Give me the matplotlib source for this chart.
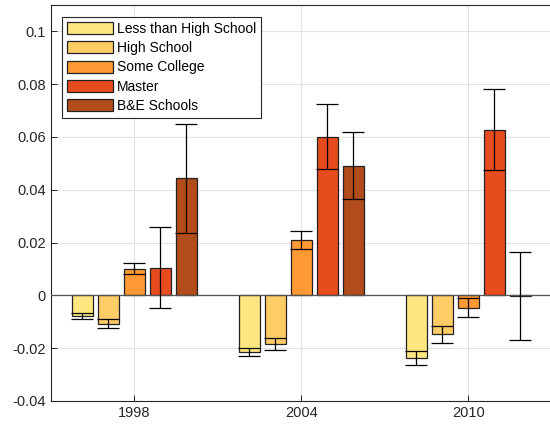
import matplotlib.pyplot as plt
import numpy as np

plt.rcParams['font.family'] = ['Liberation Sans', 'DejaVu Sans']

years = ['1998', '2004', '2010']
groups = ['Less than High School', 'High School', 'Some College', 'Master', 'B&E Schools']
colors = ['#ffe680', '#ffcc66', '#ff9933', '#e64c1e', '#b24c1a']

# estimates per education group, one value per year
est = [
    [-0.0078, -0.0215, -0.0237],
    [-0.0108, -0.0184, -0.0147],
    [0.0101, 0.0209, -0.0046],
    [0.0105, 0.0601, 0.0628],
    [0.0444, 0.0491, -0.0002],
]
err = [
    [0.0013, 0.0015, 0.0028],
    [0.0017, 0.0021, 0.0032],
    [0.0021, 0.0034, 0.0037],
    [0.0153, 0.0124, 0.0152],
    [0.0207, 0.0127, 0.0168],
]

fig = plt.figure(figsize=(5.5, 4.28), dpi=100)
ax = fig.add_axes([50.7 / 550, 27 / 428, 501 / 550, 396 / 428])

x = np.arange(1, len(years) + 1)
step = 0.156
width = 0.125
for i, (g, c) in enumerate(zip(groups, colors)):
    pos = x + (i - 2) * step
    ax.bar(pos, est[i], width, color=c, edgecolor='#222222', linewidth=0.9,
           label=g, zorder=3)
    ax.errorbar(pos, est[i], yerr=err[i], fmt='none', ecolor='black',
                elinewidth=0.9, capsize=8, capthick=0.9, zorder=4)

ax.axhline(0, color='#555555', linewidth=0.9, zorder=3.5)

ax.set_xlim(0.5, 3.5)
ax.set_ylim(-0.04, 0.11)
ax.set_xticks(x)
ax.set_xticklabels(years)
ax.set_yticks(np.arange(-0.04, 0.101, 0.02))
ax.set_yticklabels(['-0.04', '-0.02', '0', '0.02', '0.04', '0.06', '0.08', '0.1'])
ax.grid(True, color='#e3e3e3', linewidth=0.8, zorder=0)
ax.tick_params(direction='in', length=4, width=0.7, colors='#262626',
               labelsize=10.5, labelcolor='#262626')
for s in ax.spines.values():
    s.set_color('#262626')
    s.set_linewidth(0.8)

leg = ax.legend(loc='upper left', bbox_to_anchor=(0.0226, 0.970), fontsize=10,
                handlelength=3.35, handleheight=0.95, handletextpad=0.25,
                labelspacing=0.38, borderpad=0.35, borderaxespad=0,
                fancybox=False, framealpha=1, edgecolor='#262626')
leg.get_frame().set_linewidth(0.8)

fig.savefig('out.png', dpi=100)
